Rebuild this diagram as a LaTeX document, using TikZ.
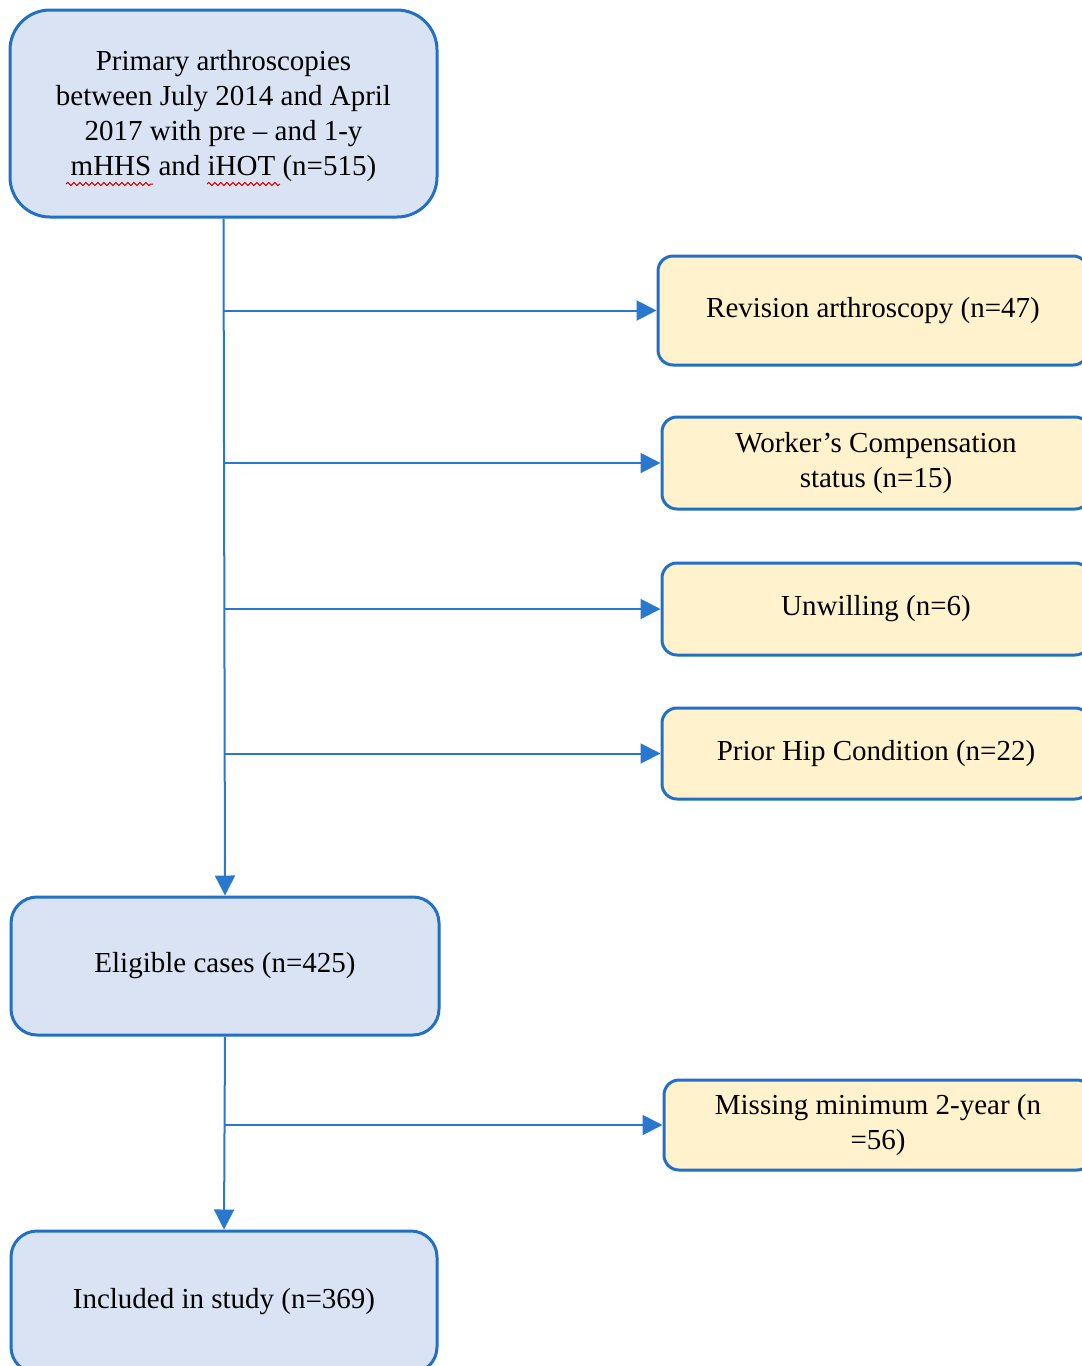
\documentclass[tikz,border=0pt]{standalone}
\usepackage{fontspec}
\setmainfont{Liberation Serif}
\usetikzlibrary{arrows.meta,decorations.pathmorphing}
\definecolor{bord}{HTML}{2270C6}
\definecolor{lin}{HTML}{2A78CD}
\definecolor{bfill}{HTML}{DAE3F3}
\definecolor{yfill}{HTML}{FFF2CC}
\tikzset{
  bluebox/.style={draw=bord, line width=1.5pt, fill=bfill, rounded corners=13pt, align=center, inner sep=2pt},
  yelbox/.style={draw=bord, line width=1.5pt, fill=yfill, rounded corners=7.5pt, align=center, inner sep=2pt},
  arr/.style={draw=lin, line width=1pt, -{Triangle[length=10pt,width=10pt]}},
  squig/.style={draw=red!85!black, line width=0.5pt, decorate, decoration={snake, amplitude=0.8pt, segment length=3pt}}
}
\begin{document}
\begin{tikzpicture}[x=0.5pt,y=-0.5pt, font=\fontsize{14.5}{17.5}\selectfont]
\useasboundingbox (0,0) rectangle (1082,1366);
\clip (0,0) rectangle (1082,1366);
\fill[white] (0,0) rectangle (1082,1366);
\node[bluebox, rounded corners=20pt, minimum width=213.5pt, minimum height=103.5pt] (top) at (223.5,113.5)
  {\rule{0pt}{13pt}Primary arthroscopies\\between July 2014 and April\\2017 with pre -- and 1-y\\mHHS and iHOT (n=515)};
\node[yelbox, minimum width=215pt, minimum height=54.5pt] (rev) at (873,310.5) {Revision arthroscopy (n=47)};
\node[yelbox, minimum width=214pt, minimum height=46pt] (work) at (876,463) {Worker’s Compensation\\status (n=15)};
\node[yelbox, minimum width=214pt, minimum height=46pt] (unw) at (876,609) {Unwilling (n=6)};
\node[yelbox, minimum width=214pt, minimum height=45.5pt] (prior) at (876,753.5) {Prior Hip Condition (n=22)};
\node[bluebox, minimum width=214pt, minimum height=69pt] (elig) at (225,966) {Eligible cases (n=425)};
\node[yelbox, minimum width=214pt, minimum height=45pt] (miss) at (878,1125) {Missing minimum 2-year (n\\=56)};
\node[bluebox, minimum width=213pt, minimum height=71pt] (incl) at (224,1302) {Included in study (n=369)};
\draw[arr] (top.south) -- (elig.north);
\draw[arr] (top.south |- rev.west) -- (rev.west);
\draw[arr] (top.south |- work.west) -- (work.west);
\draw[arr] (top.south |- unw.west) -- (unw.west);
\draw[arr] (top.south |- prior.west) -- (prior.west);
\draw[arr] (elig.south) -- (incl.north);
\draw[arr] (elig.south |- miss.west) -- (miss.west);
\draw[squig] (66,184) -- (153,184);
\draw[squig] (207,184) -- (280,184);
\end{tikzpicture}
\end{document}
